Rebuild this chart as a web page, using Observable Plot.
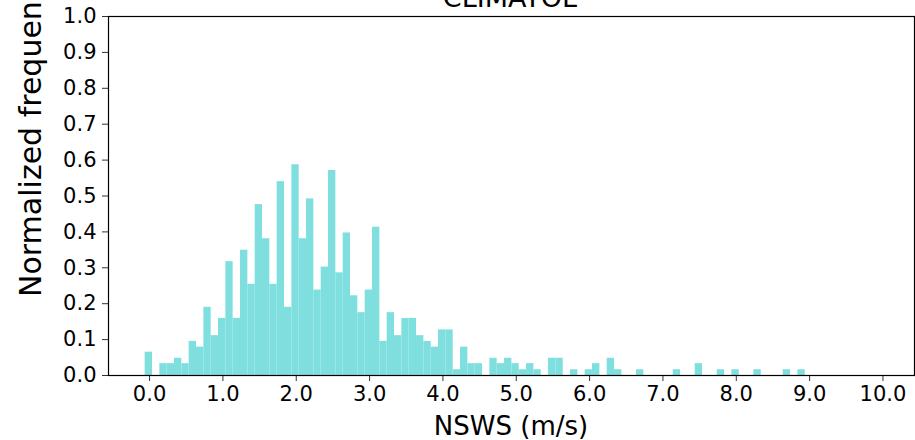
<!DOCTYPE html>
<html>
<head>
<meta charset="utf-8">
<script src="https://cdn.jsdelivr.net/npm/d3@7"></script>
<script src="https://cdn.jsdelivr.net/npm/@observablehq/plot@0.6"></script>
<style>
  html, body { margin: 0; padding: 0; background: #fff; }
  #chart { width: 915px; height: 440px; overflow: hidden; }
</style>
</head>
<body>
<div id="chart"></div>
<script>
// Histogram definition (NSWS, m/s)
const binStart = -0.06;
const binWidth = 0.1;
// Normalized frequency per bin
const freq = [
  0.065, 0, 0.033, 0.033, 0.048, 0.033, 0.095, 0.079, 0.190, 0.111,
  0.159, 0.317, 0.159, 0.349, 0.254, 0.476, 0.381, 0.254, 0.540, 0.190,
  0.587, 0.381, 0.492, 0.238, 0.302, 0.571, 0.286, 0.397, 0.222, 0.175,
  0.238, 0.413, 0.095, 0.175, 0.111, 0.159, 0.159, 0.111, 0.095, 0.079,
  0.127, 0.127, 0.016, 0.079, 0.033, 0.033, 0, 0.048, 0.033, 0.048,
  0.033, 0.016, 0.033, 0.016, 0, 0.048, 0.048, 0, 0.016, 0,
  0.016, 0.033, 0, 0.048, 0.016, 0, 0, 0.016, 0, 0,
  0, 0, 0.016, 0, 0, 0.033, 0, 0, 0.016, 0,
  0.016, 0, 0, 0.016, 0, 0, 0, 0.016, 0, 0.016
];
const xTicks = [0, 1, 2, 3, 4, 5, 6, 7, 8, 9, 10];
const yTicks = [0, 0.1, 0.2, 0.3, 0.4, 0.5, 0.6, 0.7, 0.8, 0.9, 1.0];
const titleText = "CLIMATOL";
const xLabel = "NSWS (m/s)";
const yLabel = "Normalized frequency";
const barColor = "#7fdfdf";

const bins = freq.map((v, i) => ({
  x1: binStart + i * binWidth,
  x2: binStart + (i + 1) * binWidth,
  y: v
}));

const W = 915, H = 440;
const mL = 108, mR = 1, mT = 16, mB = 65;

const chart = Plot.plot({
  width: W,
  height: H,
  marginLeft: mL,
  marginRight: mR,
  marginTop: mT,
  marginBottom: mB,
  style: { fontFamily: "'DejaVu Sans', sans-serif", fontSize: "21px", color: "#000", background: "#fff" },
  x: { domain: [-0.56, 10.43] },
  y: { domain: [0, 1] },
  marks: [
    Plot.rectY(bins, { x1: "x1", x2: "x2", y1: 0, y2: "y", fill: barColor, inset: 0 }),
    Plot.axisX({ ticks: xTicks, tickFormat: d3.format(".1f"), tickSize: 6, tickPadding: 5, label: null, stroke: "#333", fontSize: 21 }),
    Plot.axisY({ ticks: yTicks, tickFormat: d3.format(".1f"), tickSize: 6, tickPadding: 6, label: null, stroke: "#333", fontSize: 21 }),
    Plot.frame({ stroke: "#000", strokeWidth: 1.2 })
  ]
});
document.getElementById("chart").appendChild(chart);

const svg = d3.select(chart);
svg.append("text")
  .attr("x", 510).attr("y", 7)
  .attr("text-anchor", "middle")
  .attr("font-size", 27)
  .attr("fill", "#000")
  .text(titleText);
svg.append("text")
  .attr("transform", "translate(41,297) rotate(-90)")
  .attr("text-anchor", "start")
  .attr("font-size", 30)
  .attr("fill", "#000")
  .text(yLabel);
svg.append("text")
  .attr("x", 511).attr("y", 435)
  .attr("text-anchor", "middle")
  .attr("font-size", 26)
  .attr("fill", "#000")
  .text(xLabel);
</script>
</body>
</html>
